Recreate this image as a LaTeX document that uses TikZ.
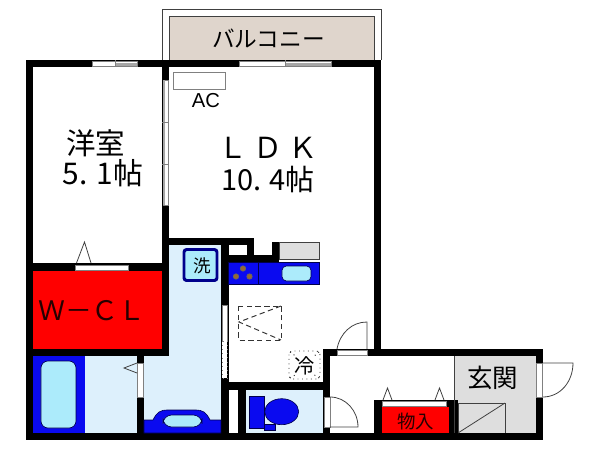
\documentclass[tikz,border=0pt]{standalone}
\usepackage{fontspec}
\setmainfont{Liberation Sans}
\newfontfamily\cjk{Noto Sans CJK JP}
\definecolor{floorblue}{HTML}{DDF0FC}
\definecolor{fixblue}{HTML}{0A0AF0}
\definecolor{paleblue}{HTML}{ACEBFB}
\definecolor{balconytan}{HTML}{DFD5CC}
\definecolor{hallgray}{HTML}{DEDEDE}
\tikzset{
    wall/.style={fill=black},
    openbox/.style={draw=gray, fill=white, line width=0.35pt},
    thinline/.style={draw=black!75, line width=0.45pt},
    fixture/.style={draw=black!70!blue, fill=fixblue, line width=0.35pt},
    basin/.style={draw=black!70!blue, fill=paleblue, line width=0.35pt},
    dotline/.style={draw=black!80, line width=0.55pt, densely dashed},
    roomtext/.style={inner sep=0pt, font=\cjk},
}
\begin{document}
\begin{tikzpicture}[x=0.02cm, y=-0.02cm]
            \useasboundingbox (0, 0) rectangle (600, 450);

            \fill[floorblue] (85, 356) rectangle (137, 433);
            \fill[floorblue] (169, 245) -- (221, 245) -- (221, 433) -- (144, 433) -- (144, 356) -- (169, 356) -- cycle;
            \fill[floorblue] (246, 390) rectangle (323, 433);
            \fill[red] (33, 271) rectangle (162, 349);
            \fill[red] (382, 407) rectangle (451, 433);
            \fill[hallgray] (454, 356) rectangle (536, 433);
            \draw[thinline, fill=hallgray] (279, 242) rectangle (319, 259);

            \draw[thinline] (162, 60) -- (162, 9) -- (381, 9) -- (381, 60);
            \draw[thinline, fill=balconytan] (169, 60) -- (169, 16) -- (374, 16) -- (374, 60);

            \fill[wall] (26, 60) rectangle (381, 67);
            \fill[wall] (26, 60) rectangle (33, 440);
            \fill[wall] (26, 433) rectangle (543, 440);
            \fill[wall] (374, 60) rectangle (381, 356);
            \fill[wall] (162, 60) rectangle (169, 356);
            \fill[wall] (26, 263) rectangle (169, 271);
            \fill[wall] (26, 349) rectangle (169, 356);
            \fill[wall] (137, 356) rectangle (144, 433);
            \fill[wall] (169, 238) rectangle (254, 245);
            \fill[wall] (221, 238) rectangle (229, 433);
            \fill[wall] (247, 238) rectangle (254, 262);
            \fill[wall] (229, 255) rectangle (279, 262);
            \fill[wall] (272, 242) rectangle (279, 262);
            \fill[wall] (221, 382) rectangle (330, 390);
            \fill[wall] (238, 390) rectangle (246, 433);
            \fill[wall] (323, 349) rectangle (543, 356);
            \fill[wall] (323, 349) rectangle (330, 433);
            \fill[wall] (536, 349) rectangle (543, 440);
            \fill[wall] (374, 400) rectangle (382, 433);
            \fill[wall] (449, 400) rectangle (458, 433);
            \fill[wall] (382, 400) rectangle (449, 407);

            \draw[openbox] (92, 61) rectangle (137, 66);
            \fill[gray!70] (115, 63) rectangle (137, 66);
            \draw[gray] (115, 60) -- (115, 67);
            \draw[openbox] (239, 61) rectangle (331, 66);
            \fill[gray!70] (285, 63) rectangle (331, 66);
            \draw[gray] (285, 60) -- (285, 67);
            \draw[openbox] (163, 80) rectangle (168, 205);
            \fill[gray!70] (163, 80) rectangle (165, 205);
            \draw[gray] (162, 122) -- (169, 122);
            \draw[gray] (162, 164) -- (169, 164);
            \draw[openbox] (75.5, 265) rectangle (128, 270);
            \draw[openbox] (137.5, 363) rectangle (143, 397);
            \draw[openbox] (222.5, 305) rectangle (227.5, 341);
            \draw[openbox, dotted] (222.5, 341) rectangle (227.5, 378);
            \draw[openbox] (337, 350) rectangle (367.5, 355);
            \draw[openbox] (324, 397) rectangle (330, 427);
            \draw[openbox] (536.5, 363) rectangle (542.5, 397);
            \draw[openbox] (382, 401) rectangle (446, 406);
            \fill[white] (229, 245.5) rectangle (247, 255);
            \fill[white] (229, 390) rectangle (238, 433);

            \draw[thinline] (76.5, 263) -- (84.5, 242) -- (91, 263);
            \draw[thinline] (137, 363) -- (124, 368) -- (137, 373);
            \draw[thinline] (383, 400) -- (387.5, 388) -- (392, 400);
            \draw[thinline] (435, 400) -- (439.5, 388) -- (444, 400);
            \draw[thinline] (337, 349) .. controls (340, 333) and (352, 322) .. (367, 322) -- (367, 349);
            \draw[thinline] (330, 397) .. controls (346, 397) and (358, 411) .. (358, 427) -- (330, 427);
            \draw[thinline] (543, 363) -- (573, 363) .. controls (573, 382) and (560, 397) .. (543, 397);
            \draw[thinline] (458, 433) -- (458, 403) -- (505, 403) -- (505, 433);
            \draw[thinline] (458, 433) -- (505, 403);
            \draw[thinline] (454, 356) -- (454, 433);
            \draw[gray, fill=white, line width=0.5pt] (173.5, 72) rectangle (225.5, 89);

            \fill[fixblue] (33, 356) rectangle (85, 433);
            \draw[basin, rounded corners=4pt] (41, 361) rectangle (76, 428);
            \draw[fixture] (144, 433) -- (144, 420) -- (153, 420) .. controls (157, 412) and (160, 410) .. (168, 410) -- (195, 410) .. controls (203, 410) and (206, 412) .. (210, 420) -- (221, 420) -- (221, 433) -- cycle;
            \draw[basin, rounded corners=5pt] (163, 415) rectangle (202, 427);
            \draw[fixture] (228, 262) rectangle (319.5, 284);
            \draw[black!70!blue, line width=0.35pt] (258, 262) -- (258, 284);
            \draw[basin, rounded corners=2.5pt] (282, 266) rectangle (311, 281);
            \foreach \bx/\by in {243/268.5, 236/276.5, 249.5/276.5}
                \fill[brown!80!black, draw=black!60] (\bx, \by) circle[radius=2.7];
            \draw[draw=blue!55!black, fill=paleblue, line width=1.7pt, rounded corners=1.5pt] (184, 249.5) rectangle (217, 280.5);
            \draw[fixture] (264, 424) rectangle (275, 430);
            \draw[fixture] (249, 396) rectangle (264, 428);
            \draw[fixture] (281.7, 411.7) circle[x radius=17, y radius=13];

            \draw[dotline] (238.5, 306) rectangle (281.5, 340);
            \draw[dotline] (281, 306) -- (239, 322) -- (281, 340);
            \draw[dotline, dotted, rounded corners=2pt] (289, 351) rectangle (320, 379);
            \draw[dotline, dotted] (290, 352) -- (297, 357);
            \draw[dotline, dotted] (319, 352) -- (313, 357);
            \draw[dotline, dotted] (290, 378) -- (297, 374);
            \draw[dotline, dotted] (319, 378) -- (313, 374);

            \node[roomtext, font=\cjk\fontsize{12.9}{14}\selectfont] (balcony) at (268.5, 38) {バルコニー};
            \node[inner sep=0pt, font=\fontsize{11.5}{13}\selectfont] (aircon) at (206, 101) {AC};
            \node[roomtext, font=\cjk\fontsize{16.8}{18}\selectfont] (western) at (96, 143) {洋室};
            \node[roomtext, font=\cjk\fontsize{17}{18}\selectfont] (westernsize) at (103, 173) {5. 1帖};
            \node[roomtext, font=\cjk\fontsize{16.5}{18}\selectfont] (ldk) at (268, 148) {Ｌ Ｄ Ｋ};
            \node[roomtext, font=\cjk\fontsize{16.5}{18}\selectfont] (ldksize) at (268, 179) {10. 4帖};
            \node[roomtext, font=\cjk\fontsize{15.3}{17}\selectfont, text=black!85!red] (wcl) at (92, 311) {Ｗ－ＣＬ};
            \node[roomtext, font=\cjk\fontsize{10}{12}\selectfont] (washer) at (202, 266) {洗};
            \node[roomtext, font=\cjk\fontsize{11.5}{13}\selectfont] (fridge) at (305, 366) {冷};
            \node[roomtext, font=\cjk\fontsize{10.5}{12}\selectfont, text=black!85!red] (closet) at (416, 421) {物入};
            \node[roomtext, font=\cjk\fontsize{14.5}{16}\selectfont] (entrance) at (493, 378) {玄関};
        \end{tikzpicture}
\end{document}
